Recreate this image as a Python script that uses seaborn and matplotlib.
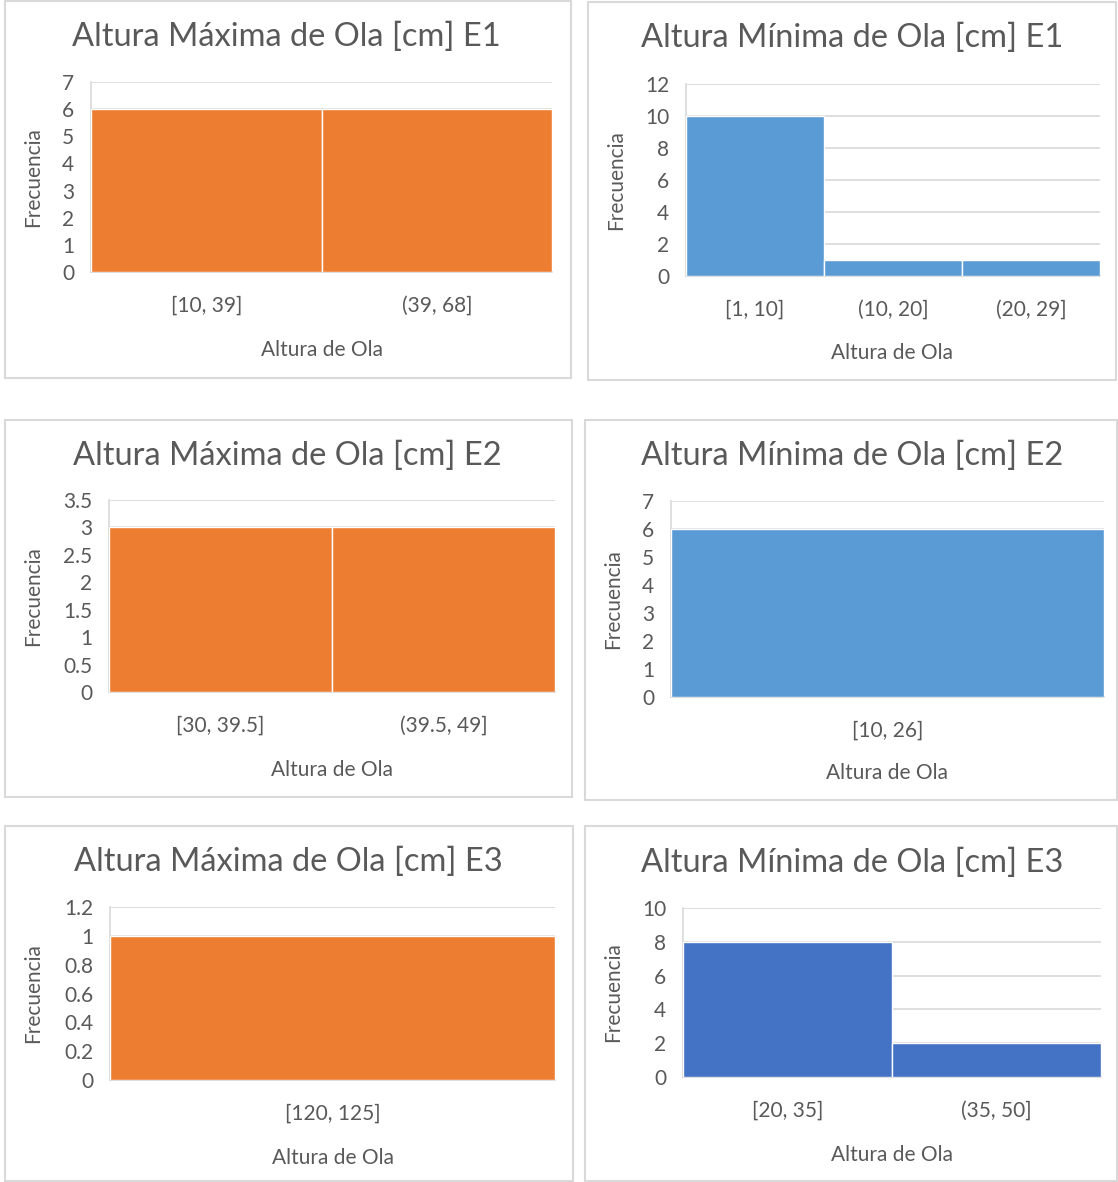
import matplotlib
matplotlib.use("Agg")
import matplotlib.pyplot as plt
from matplotlib.patches import Rectangle
from matplotlib.ticker import FuncFormatter
import numpy as np
import seaborn as sns

# data
e1_max_bins = ["[10, 39]", "(39, 68]"]
e1_max_freq = [6, 6]
e1_min_bins = ["[1, 10]", "(10, 20]", "(20, 29]"]
e1_min_freq = [10, 1, 1]
e2_max_bins = ["[30, 39.5]", "(39.5, 49]"]
e2_max_freq = [3, 3]
e2_min_bins = ["[10, 26]"]
e2_min_freq = [6]
e3_max_bins = ["[120, 125]"]
e3_max_freq = [1]
e3_min_bins = ["[20, 35]", "(35, 50]"]
e3_min_freq = [8, 2]

titles = [
    "Altura Máxima de Ola [cm] E1", "Altura Mínima de Ola [cm] E1",
    "Altura Máxima de Ola [cm] E2", "Altura Mínima de Ola [cm] E2",
    "Altura Máxima de Ola [cm] E3", "Altura Mínima de Ola [cm] E3",
]
y_max = [7, 12, 3.5, 7, 1.2, 10]
y_step = [1, 2, 0.5, 1, 0.2, 2]

ORANGE = "#ED7D31"
BLUE = "#5B9BD5"
DARK_BLUE = "#4472C4"
GRID = "#D9D9D9"
TEXT = "#595959"

sns.set_theme(style="white")
plt.rcParams["font.family"] = ["Lato", "DejaVu Sans"]

W, H = 1118, 1182
fig = plt.figure(figsize=(W / 100, H / 100), dpi=100)

# pixel layout: panel box, axes box, title centre, xlabel centre, ylabel x
layout = [
    dict(box=(5, 1, 571, 378), ax=(91, 82, 552, 272), title=(286, 37), xl=(322, 350), yl=33),
    dict(box=(588, 2, 1116, 380), ax=(686, 84, 1100, 276), title=(852, 38), xl=(892, 353), yl=616),
    dict(box=(5, 420, 572, 797), ax=(109, 500, 555, 692), title=(287, 456), xl=(332, 770), yl=33),
    dict(box=(585, 420, 1117, 800), ax=(671, 501, 1104, 697), title=(852, 456), xl=(887, 773), yl=613),
    dict(box=(5, 826, 573, 1181), ax=(110, 907, 555, 1080), title=(288, 862), xl=(333, 1158), yl=33),
    dict(box=(585, 826, 1117, 1181), ax=(683, 908, 1101, 1077), title=(852, 863), xl=(892, 1155), yl=613),
]

panels = [
    (e1_max_bins, e1_max_freq, ORANGE),
    (e1_min_bins, e1_min_freq, BLUE),
    (e2_max_bins, e2_max_freq, ORANGE),
    (e2_min_bins, e2_min_freq, BLUE),
    (e3_max_bins, e3_max_freq, ORANGE),
    (e3_min_bins, e3_min_freq, DARK_BLUE),
]


def fx(x):
    return x / W


def fy(y):
    return 1 - y / H


for i, (bins, freq, color) in enumerate(panels):
    lay = layout[i]
    bx0, by0, bx1, by1 = lay["box"]
    fig.patches.append(Rectangle((fx(bx0), fy(by1)), fx(bx1 - bx0), (by1 - by0) / H,
                                 transform=fig.transFigure, fill=False,
                                 edgecolor=GRID, linewidth=1.5, zorder=0))

    ax0, ay0, ax1, ay1 = lay["ax"]
    ax = fig.add_axes([fx(ax0), fy(ay1), fx(ax1 - ax0), (ay1 - ay0) / H])
    sns.barplot(x=bins, y=freq, color=color, width=1, edgecolor="white",
                linewidth=1, saturation=1, ax=ax, zorder=3)
    ax.set_xlim(-0.5, len(bins) - 0.5)
    ax.set_ylim(0, y_max[i])
    ax.set_yticks(np.arange(0, y_max[i] + y_step[i] / 2, y_step[i]))
    ax.yaxis.set_major_formatter(FuncFormatter(lambda v, p: f"{round(v, 2):g}"))
    ax.grid(axis="y", color=GRID, linewidth=1.2, zorder=0)
    ax.set_axisbelow(True)
    for side in ["top", "right"]:
        ax.spines[side].set_visible(False)
    for side in ["left", "bottom"]:
        ax.spines[side].set_color(GRID)
        ax.spines[side].set_linewidth(1.2)
    ax.tick_params(axis="y", length=0, pad=12, labelsize=15, labelcolor=TEXT)
    ax.tick_params(axis="x", length=0, pad=17, labelsize=15, labelcolor=TEXT)
    ax.set_xlabel("")
    ax.set_ylabel("")

    fig.text(fx(lay["title"][0]), fy(lay["title"][1]), titles[i], ha="center",
             va="center", fontsize=23.5, color=TEXT)
    fig.text(fx(lay["xl"][0]), fy(lay["xl"][1]), "Altura de Ola", ha="center",
             va="center", fontsize=15, color=TEXT)
    fig.text(fx(lay["yl"]), fy((ay0 + ay1) / 2), "Frecuencia", ha="center",
             va="center", rotation=90, fontsize=15, color=TEXT)

fig.savefig("out.png", dpi=100, facecolor="white")
